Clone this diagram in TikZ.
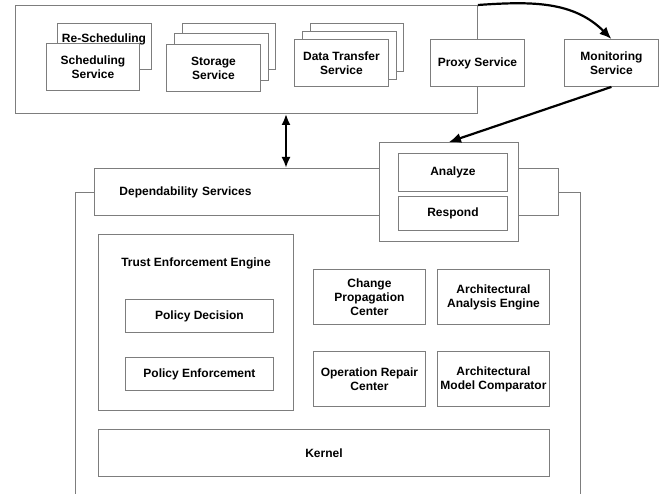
\documentclass[tikz,border=0pt]{standalone}
\usepackage{fontspec}
\setmainfont{Liberation Sans}
\usetikzlibrary{positioning,arrows.meta}
\definecolor{linegray}{RGB}{125,125,125}

\begin{document}
\begin{tikzpicture}[
    x=1pt, y=-1pt,
    box/.style={draw=linegray, line width=0.9pt, fill=white, align=center, inner sep=0pt,
                anchor=north west, font=\fontsize{12}{14}\selectfont\bfseries},
    lbl/.style={inner sep=0pt, font=\fontsize{12}{14}\selectfont\bfseries},
    arr/.style={-{Latex[length=12pt,width=10pt]}, line width=2.2pt},
    dbl/.style={{Latex[length=11pt,width=9pt]}-{Latex[length=11pt,width=9pt]}, line width=2.2pt}
]
\useasboundingbox (0,0) rectangle (661,494);

% service grid on top
\node[box, minimum width=462, minimum height=108] (svcs) at (15,5) {};
\node[box, minimum width=94, minimum height=46] (resched) at (57,23) {};
\node[lbl] (reschedtxt) at (104,39) {Re-Scheduling};
\node[box, minimum width=93, minimum height=47] (sched) at (46,43) {Scheduling\\Service};
\node[box, minimum width=93, minimum height=46] (stor3) at (182,23) {};
\node[box, minimum width=94, minimum height=47] (stor2) at (174,33) {};
\node[box, minimum width=94, minimum height=47] (stor1) at (166,44) {Storage\\Service};
\node[box, minimum width=93, minimum height=48] (dt3) at (310,23) {};
\node[box, minimum width=94, minimum height=48] (dt2) at (302,31) {};
\node[box, minimum width=94, minimum height=47] (dt1) at (294,39) {Data Transfer\\Service};
\node[box, minimum width=94, minimum height=47] (proxy) at (430,39) {Proxy Service};
\node[box, minimum width=94, minimum height=47] (mon) at (564,39) {Monitoring\\Service};

% dependability layer
\draw[linegray, line width=0.9pt] (75,494) -- (75,192) -- (580,192) -- (580,494);
\node[box, minimum height=47, text width=414, inner xsep=25, align=left] (dep) at (94,168) {Dependability Services};
\node[box, minimum width=139, minimum height=99] (acont) at (379,142) {};
\node[box, minimum width=109, minimum height=38] (ana) at (398,153) {Analyze};
\node[box, minimum width=109, minimum height=34] (resp) at (398,196) {Respond};

\node[box, minimum width=195, minimum height=176] (tee) at (98,234) {};
\node[lbl] (teetxt) at (196,263) {Trust Enforcement Engine};
\node[box, minimum width=148, minimum height=33] (pdec) at (125,299) {Policy Decision};
\node[box, minimum width=148, minimum height=33] (penf) at (125,357) {Policy Enforcement};

\node[box, minimum width=112, minimum height=55] (cpc) at (313,269) {Change\\Propagation\\Center};
\node[box, minimum width=112, minimum height=55] (aae) at (437,269) {Architectural\\Analysis Engine};
\node[box, minimum width=112, minimum height=55] (orc) at (313,351) {Operation Repair\\Center};
\node[box, minimum width=112, minimum height=55] (amc) at (437,351) {Architectural\\Model Comparator};
\node[box, minimum width=451, minimum height=47] (kern) at (98,429) {Kernel};

% links
\coordinate (link) at (286,140);
\draw[dbl] (link |- svcs.south) -- (link |- dep.north);
\draw[arr] (svcs.north east) to[out=4, in=135] (mon.north);
\draw[arr] (mon.south) -- (acont.north);
\end{tikzpicture}
\end{document}
